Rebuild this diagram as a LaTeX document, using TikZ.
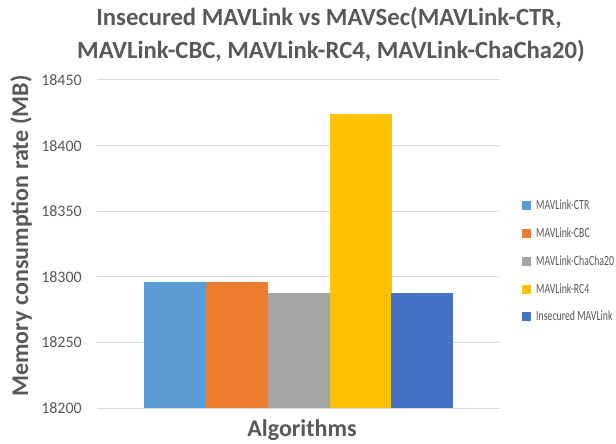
\documentclass[tikz,border=0pt]{standalone}
\usepackage{fontspec}
\setmainfont{Carlito}
\definecolor{txt}{HTML}{595959}
\definecolor{grid}{HTML}{D9D9D9}
\definecolor{cA}{HTML}{5B9BD5}
\definecolor{cB}{HTML}{ED7D31}
\definecolor{cC}{HTML}{A5A5A5}
\definecolor{cD}{HTML}{FFC000}
\definecolor{cE}{HTML}{4472C4}
\begin{document}
\begin{tikzpicture}[x=1pt,y=-1pt,
  title/.style={font=\fontsize{24.7}{29}\selectfont\bfseries, text=txt},
  axtitle/.style={font=\fontsize{24}{29}\selectfont\bfseries, text=txt},
  tick/.style={font=\fontsize{16}{19}\selectfont, text=txt, anchor=east, inner sep=0pt},
  gridline/.style={draw=grid, line width=1pt},
  legtext/.style={font=\fontsize{14}{17}\selectfont, text=txt, anchor=west, inner sep=0pt},
  legbox/.style={minimum size=9pt, inner sep=0pt}]
\useasboundingbox[fill=white] (0,0) rectangle (616,444);
% title
\node[title] (t1) at (329,18) {Insecured MAVLink vs MAVSec(MAVLink-CTR,};
\node[title] (t2) at (331,51) {MAVLink-CBC, MAVLink-RC4, MAVLink-ChaCha20)};
% grid and ticks
\foreach \v/\yy in {18200/408,18250/342.4,18300/276.8,18350/211.2,18400/145.6,18450/80}{
  \draw[gridline] (97,\yy) -- (500,\yy);
  \node[tick] (tk\v) at (82,\yy) {\v};
}
% bars: y(v) = 408 - (v-18200)*1.312
\fill[cA] (144,408) rectangle (206,282);
\fill[cB] (206,408) rectangle (268,282);
\fill[cC] (268,408) rectangle (330,293);
\fill[cD] (330,408) rectangle (391.5,114);
\fill[cE] (391,408) rectangle (453,293);
% axis titles
\node[axtitle, rotate=90] (yt) at (21,236) {Memory consumption rate (MB)};
\node[axtitle] (xt) at (302,430) {Algorithms};
% legend
\foreach \c/\yy/\lab [count=\i] in {cA/205/MAVLink-CTR, cB/233/MAVLink-CBC, cC/261/MAVLink-ChaCha20, cD/289/MAVLink-RC4, cE/316/Insecured MAVLink}{
  \node[legbox, fill=\c] (lb\i) at (526,\yy) {};
  \node[legtext] (lt\i) at (536,\yy) {\scalebox{0.7}[1]{\lab}};
}
\end{tikzpicture}
\end{document}
